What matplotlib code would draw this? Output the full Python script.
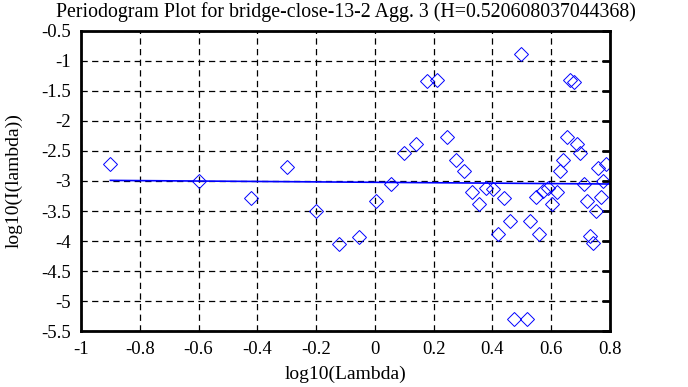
import matplotlib
matplotlib.use('Agg')
import matplotlib.pyplot as plt
import numpy as np

plt.rcParams['font.family'] = ['Liberation Serif', 'DejaVu Serif']

# periodogram points
log_lambda = [-0.90, -0.60, -0.42, -0.30, -0.20, -0.122, -0.054, 0.004, 0.055,
              0.099, 0.140, 0.177, 0.211, 0.245, 0.276, 0.303, 0.330, 0.354,
              0.378, 0.402, 0.419, 0.440, 0.460, 0.473, 0.497, 0.517, 0.528,
              0.548, 0.558, 0.572, 0.589, 0.603, 0.620, 0.630, 0.640, 0.654,
              0.664, 0.677, 0.688, 0.698, 0.711, 0.722, 0.732, 0.742, 0.752,
              0.759, 0.769, 0.776, 0.786]
log_I = [-2.72, -3.00, -3.28, -2.77, -3.50, -4.05, -3.93, -3.33, -3.05,
         -2.53, -2.38, -1.33, -1.32, -2.27, -2.65, -2.84, -3.18, -3.39,
         -3.12, -3.14, -3.88, -3.28, -3.67, -5.30, -0.88, -5.30, -3.67,
         -3.27, -3.88, -3.17, -3.12, -3.39, -3.18, -2.84, -2.65, -2.27,
         -1.32, -1.35, -2.38, -2.53, -3.05, -3.33, -3.92, -4.03, -3.50,
         -2.78, -3.27, -3.00, -2.72]

# fitted line end points
fit_x = [-0.90, 0.80]
fit_y = [-2.99, -3.05]

H = 0.520608037044368

fig = plt.figure(figsize=(6.88, 3.87), dpi=100)
ax = fig.add_axes([0.1177, 0.1447, 0.7689, 0.7752])

ax.plot(log_lambda, log_I, linestyle='none', marker='D', markersize=7.3,
        markerfacecolor='none', markeredgecolor='#0000ff', markeredgewidth=0.7)
ax.plot(fit_x, fit_y, color='#0000ff', linewidth=1.2)

ax.set_xlim(-1, 0.8)
ax.set_ylim(-5.5, -0.5)
ax.set_xticks(np.arange(-1, 0.81, 0.2))
ax.set_xticklabels(['-1', '-0.8', '-0.6', '-0.4', '-0.2', '0', '0.2', '0.4', '0.6', '0.8'])
ax.set_yticks(np.arange(-5.5, -0.49, 0.5))
ax.set_yticklabels(['-5.5', '-5', '-4.5', '-4', '-3.5', '-3', '-2.5', '-2', '-1.5', '-1', '-0.5'])

ax.grid(True, color='black', linestyle=(0, (5, 3.5)), linewidth=0.9)
ax.tick_params(axis='y', left=False, right=True, labelleft=True, labelright=False,
               direction='in', length=6, width=2, labelsize=13.5, pad=7)
ax.tick_params(axis='x', bottom=False, labelsize=13.5, pad=4)
for s in ax.spines.values():
    s.set_linewidth(2)

ax.set_xlabel('log10(Lambda)', fontsize=14, labelpad=5)
ax.set_ylabel('log10(I(lambda))', fontsize=14)
ax.yaxis.set_label_coords(-0.11, 0.5)
ax.set_title('Periodogram Plot for bridge-close-13-2 Agg. 3 (H=%s)' % H,
             fontsize=14.3, pad=10)

fig.savefig('out.png', dpi=100)
